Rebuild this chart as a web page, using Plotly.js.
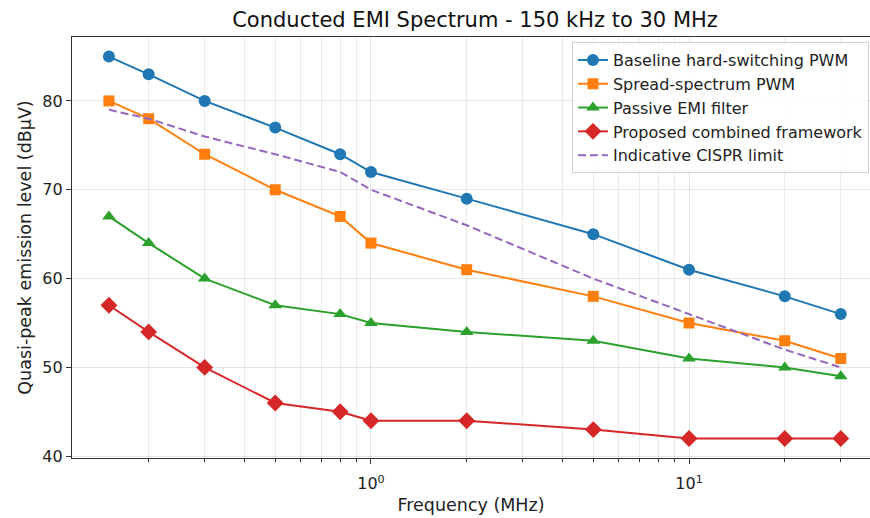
<!DOCTYPE html>
<html><head><meta charset="utf-8">
<script src="https://cdn.plot.ly/plotly-3.0.1.min.js"></script>
<style>html,body{margin:0;padding:0;overflow:hidden;background:#fff}</style>
</head><body><div id="chart" style="width:870px;height:518px"></div>
<script>
const freqMHz = [0.15, 0.2, 0.3, 0.5, 0.8, 1, 2, 5, 10, 20, 30];
const baseline = [85, 83, 80, 77, 74, 72, 69, 65, 61, 58, 56];
const spread = [80, 78, 74, 70, 67, 64, 61, 58, 55, 53, 51];
const passive = [67, 64, 60, 57, 56, 55, 54, 53, 51, 50, 49];
const proposed = [57, 54, 50, 46, 45, 44, 44, 43, 42, 42, 42];
const cispr = [79, 78, 76, 74, 72, 70, 66, 60, 56, 52, 50];
const xMajorVals = [1, 10];
const xMajorText = ["10<sup>0</sup>", "10<sup>1</sup>"];
const xMinorVals = [0.2,0.3,0.4,0.5,0.6,0.7,0.8,0.9,2,3,4,5,6,7,8,9,20,30,40];
const yTicks = [40, 50, 60, 70, 80];

const font = "DejaVu Sans, sans-serif";
function tr(y, name, color, symbol, size) {
  return {x: freqMHz, y: y, name: name, type: "scatter", mode: "lines+markers",
    line: {color: color, width: 2}, marker: {color: color, symbol: symbol, size: size}};
}
const data = [
  tr(baseline, "Baseline hard-switching PWM", "#1f77b4", "circle", 12),
  tr(spread, "Spread-spectrum PWM", "#ff7f0e", "square", 11),
  tr(passive, "Passive EMI filter", "#2ca02c", "triangle-up", 12),
  tr(proposed, "Proposed combined framework", "#d62728", "diamond", 13),
  {x: freqMHz, y: cispr, name: "Indicative CISPR limit", type: "scatter", mode: "lines",
   line: {color: "#9467bd", width: 2, dash: "8px,4px"}}
];
const layout = {
  width: 870, height: 518,
  margin: {l: 72, r: 0, t: 37, b: 60},
  paper_bgcolor: "#fff", plot_bgcolor: "#fff",
  font: {family: font, size: 16, color: "#222"},
  title: {text: "Conducted EMI Spectrum - 150 kHz to 30 MHz", font: {size: 21, family: font, color: "#111"},
    x: 0.546, xanchor: "center", y: 0.962, yanchor: "middle"},
  showlegend: true,
  legend: {x: 0.9987, xanchor: "right", y: 0.988, yanchor: "top",
    bgcolor: "rgba(255,255,255,0.85)", bordercolor: "#d0d0d0", borderwidth: 1,
    font: {size: 16, family: font, color: "#222"}, tracegroupgap: 0},
  xaxis: {type: "log", range: [-0.940, 1.569],
    tickvals: xMajorVals, ticktext: xMajorText, ticks: "outside", ticklen: 5, tickwidth: 1,
    tickcolor: "#333", showline: true, linecolor: "#333", linewidth: 1.2, mirror: true,
    showgrid: true, gridcolor: "rgba(0,0,0,0.1)", gridwidth: 1, zeroline: false,
    ticklabelstandoff: 6,
    tickfont: {size: 16, family: font, color: "#222"},
    minor: {tickvals: xMinorVals, ticks: "outside", ticklen: 3, tickcolor: "#333",
      showgrid: true, gridcolor: "rgba(0,0,0,0.08)", gridwidth: 1},
    title: {text: "Frequency (MHz)", font: {size: 17.5, family: font, color: "#222"}, standoff: 6}},
  yaxis: {range: [39.8, 87.2], tickvals: yTicks, ticks: "outside", ticklen: 5, tickwidth: 1,
    tickcolor: "#333", showline: true, linecolor: "#333", linewidth: 1.2, mirror: false,
    showgrid: true, gridcolor: "rgba(0,0,0,0.1)", gridwidth: 1, zeroline: false,
    tickfont: {size: 16, family: font, color: "#222"},
    title: {text: "Quasi-peak emission level (dBμV)", font: {size: 17.5, family: font, color: "#222"}, standoff: 6}}
};
Plotly.newPlot("chart", data, layout, {displayModeBar: false, staticPlot: true});
</script></body></html>
